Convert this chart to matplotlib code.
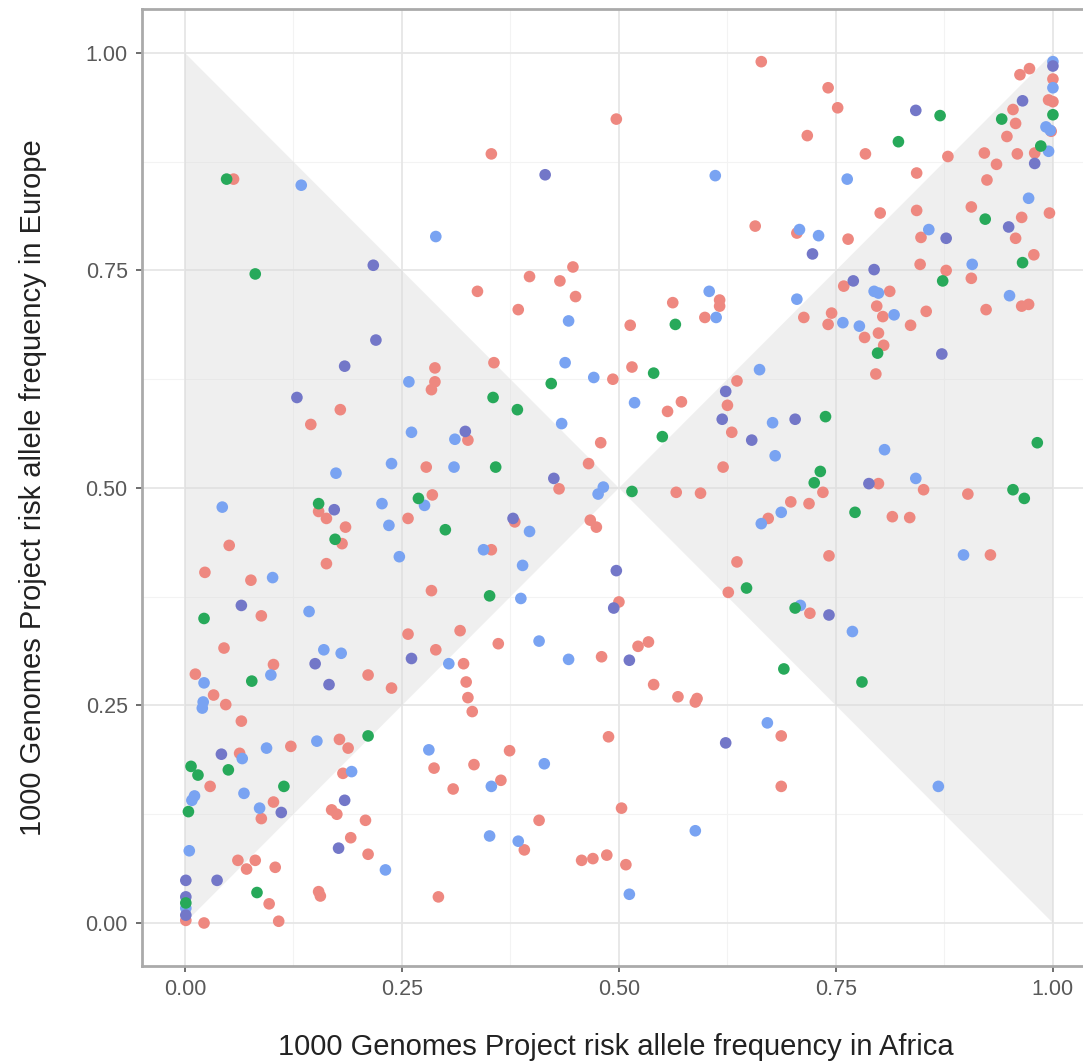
import numpy as np
import matplotlib
matplotlib.use("Agg")
import matplotlib.pyplot as plt
from matplotlib.patches import Polygon

plt.rcParams['font.family'] = ['Liberation Sans', 'DejaVu Sans']

# allele frequencies (Africa, Europe) per point group
red_x = [0.056, 0.664, 0.497, 0.353, 0.657, 0.447, 0.397, 0.432, 0.337, 0.450, 0.384, 0.513,
         0.562, 0.616, 0.616, 0.599, 0.741, 0.752, 0.717, 0.784, 0.879, 0.843, 0.801, 0.843,
         0.906, 0.964, 0.996, 0.957, 0.978, 0.906, 0.964, 0.972, 0.923, 0.854, 0.705, 0.764,
         0.848, 0.847, 0.877, 0.759, 0.812, 0.797, 0.804, 0.745, 0.741, 0.836, 0.713, 0.973,
         0.962, 1.000, 0.995, 1.000, 0.954, 0.957, 0.998, 0.947, 0.979, 0.959, 0.921, 0.935,
         0.924,
         0.288, 0.288, 0.284, 0.179, 0.145, 0.326, 0.278, 0.285, 0.154, 0.163, 0.185, 0.181,
         0.257, 0.051, 0.163, 0.023, 0.076, 0.284, 0.088, 0.257, 0.317,
         0.356, 0.515, 0.493, 0.636, 0.625, 0.630, 0.620, 0.572, 0.556, 0.479, 0.465, 0.431,
         0.566, 0.594, 0.380, 0.467, 0.474, 0.353, 0.500, 0.361, 0.534, 0.522, 0.636, 0.626,
         0.672,
         0.799, 0.783, 0.805, 0.796, 0.735, 0.698, 0.719, 0.799, 0.851, 0.815, 0.835, 0.902,
         0.742, 0.928, 0.720,
         0.045, 0.289, 0.321, 0.324, 0.326, 0.331, 0.102, 0.012, 0.211, 0.238, 0.033, 0.047,
         0.065, 0.178, 0.188, 0.122, 0.063, 0.029, 0.182, 0.102, 0.088, 0.169, 0.175, 0.208,
         0.191, 0.211, 0.287, 0.309, 0.061, 0.081, 0.071, 0.104, 0.154, 0.156, 0.097, 0.108,
         0.001, 0.022, 0.292,
         0.480, 0.540, 0.568, 0.588, 0.590, 0.488, 0.374, 0.333, 0.364, 0.503, 0.408, 0.391,
         0.457, 0.470, 0.486, 0.508, 0.687, 0.687]
red_y = [0.855, 0.990, 0.924, 0.884, 0.801, 0.754, 0.743, 0.738, 0.726, 0.720, 0.705, 0.687,
         0.713, 0.716, 0.709, 0.696, 0.960, 0.937, 0.905, 0.884, 0.881, 0.862, 0.816, 0.819,
         0.823, 0.811, 0.816, 0.787, 0.768, 0.741, 0.709, 0.711, 0.705, 0.703, 0.793, 0.786,
         0.788, 0.757, 0.750, 0.732, 0.726, 0.709, 0.697, 0.701, 0.688, 0.687, 0.696, 0.982,
         0.975, 0.970, 0.946, 0.944, 0.935, 0.919, 0.910, 0.904, 0.885, 0.884, 0.885, 0.872,
         0.854,
         0.638, 0.622, 0.613, 0.590, 0.573, 0.555, 0.524, 0.492, 0.473, 0.465, 0.455, 0.436,
         0.465, 0.434, 0.413, 0.403, 0.394, 0.382, 0.353, 0.332, 0.336,
         0.644, 0.639, 0.625, 0.623, 0.595, 0.564, 0.524, 0.599, 0.588, 0.552, 0.528, 0.499,
         0.495, 0.494, 0.461, 0.463, 0.455, 0.429, 0.369, 0.321, 0.323, 0.318, 0.415, 0.380,
         0.465,
         0.678, 0.673, 0.664, 0.631, 0.495, 0.484, 0.482, 0.505, 0.498, 0.467, 0.466, 0.493,
         0.422, 0.423, 0.356,
         0.316, 0.314, 0.298, 0.277, 0.259, 0.243, 0.297, 0.286, 0.285, 0.270, 0.262, 0.251,
         0.232, 0.211, 0.201, 0.203, 0.195, 0.157, 0.172, 0.139, 0.120, 0.130, 0.125, 0.118,
         0.098, 0.079, 0.178, 0.154, 0.072, 0.072, 0.062, 0.064, 0.036, 0.031, 0.022, 0.002,
         0.003, 0.000, 0.030,
         0.306, 0.274, 0.260, 0.254, 0.258, 0.214, 0.198, 0.182, 0.164, 0.132, 0.118, 0.084,
         0.072, 0.074, 0.078, 0.067, 0.215, 0.157]

blue_x = [0.134, 0.289, 0.611, 0.442, 0.604, 0.612, 0.763, 0.972, 0.907, 0.950, 0.708, 0.730,
          0.857, 0.794, 0.799, 0.817, 0.758, 0.777, 0.705, 1.000, 1.000, 0.992, 0.997, 0.995,
          0.258, 0.261, 0.311, 0.238, 0.310, 0.174, 0.276, 0.227, 0.043, 0.235, 0.247, 0.101,
          0.143,
          0.438, 0.471, 0.662, 0.677, 0.680, 0.518, 0.434, 0.482, 0.476, 0.397, 0.344, 0.389,
          0.387, 0.408, 0.664,
          0.806, 0.687, 0.842, 0.897, 0.709, 0.769,
          0.160, 0.180, 0.304, 0.099, 0.022, 0.021, 0.020, 0.152, 0.094, 0.066, 0.192, 0.011,
          0.008, 0.068, 0.086, 0.231, 0.281, 0.005, 0.001,
          0.442, 0.414, 0.353, 0.351, 0.384, 0.512, 0.588, 0.671, 0.868]
blue_y = [0.848, 0.789, 0.859, 0.692, 0.726, 0.696, 0.855, 0.833, 0.757, 0.721, 0.797, 0.790,
          0.797, 0.726, 0.724, 0.699, 0.690, 0.686, 0.717, 0.990, 0.960, 0.915, 0.911, 0.887,
          0.622, 0.564, 0.556, 0.528, 0.524, 0.517, 0.480, 0.482, 0.478, 0.457, 0.421, 0.397,
          0.358,
          0.644, 0.627, 0.636, 0.575, 0.537, 0.598, 0.574, 0.501, 0.493, 0.450, 0.429, 0.411,
          0.373, 0.324, 0.459,
          0.544, 0.472, 0.511, 0.423, 0.365, 0.335,
          0.314, 0.310, 0.298, 0.285, 0.276, 0.254, 0.247, 0.209, 0.201, 0.189, 0.174, 0.146,
          0.141, 0.149, 0.132, 0.061, 0.199, 0.083, 0.017,
          0.303, 0.183, 0.157, 0.100, 0.094, 0.033, 0.106, 0.230, 0.157]

purple_x = [0.217, 0.415, 0.842, 0.949, 0.723, 0.877, 0.794, 0.770, 1.000, 0.965, 0.979,
            0.220, 0.184, 0.129, 0.323, 0.172, 0.065,
            0.623, 0.619, 0.653, 0.425, 0.378, 0.497, 0.494,
            0.872, 0.703, 0.788, 0.742,
            0.150, 0.166, 0.261, 0.042, 0.111, 0.184, 0.177, 0.001, 0.037, 0.001, 0.001,
            0.512, 0.623]
purple_y = [0.756, 0.860, 0.934, 0.800, 0.769, 0.787, 0.751, 0.738, 0.985, 0.945, 0.873,
            0.670, 0.640, 0.604, 0.565, 0.475, 0.365,
            0.611, 0.579, 0.555, 0.511, 0.465, 0.405, 0.362,
            0.654, 0.579, 0.505, 0.354,
            0.298, 0.274, 0.304, 0.194, 0.127, 0.141, 0.086, 0.049, 0.049, 0.030, 0.009,
            0.302, 0.207]

green_x = [0.048, 0.081, 0.565, 0.870, 0.822, 0.922, 0.965, 0.873, 1.000, 0.941, 0.986,
           0.269, 0.154, 0.173, 0.300, 0.022,
           0.540, 0.422, 0.355, 0.383, 0.550, 0.358, 0.515, 0.351, 0.647,
           0.798, 0.738, 0.732, 0.725, 0.772, 0.982, 0.954, 0.967, 0.703,
           0.077, 0.211, 0.007, 0.015, 0.050, 0.114, 0.004, 0.083, 0.001,
           0.690, 0.780]
green_y = [0.855, 0.746, 0.688, 0.928, 0.898, 0.809, 0.759, 0.738, 0.929, 0.924, 0.893,
           0.488, 0.482, 0.441, 0.452, 0.350,
           0.632, 0.620, 0.604, 0.590, 0.559, 0.524, 0.496, 0.376, 0.385,
           0.655, 0.582, 0.519, 0.506, 0.472, 0.552, 0.498, 0.488, 0.362,
           0.278, 0.215, 0.180, 0.170, 0.176, 0.157, 0.128, 0.035, 0.023,
           0.292, 0.277]

ticks = [0.0, 0.25, 0.5, 0.75, 1.0]
tick_labels = ["0.00", "0.25", "0.50", "0.75", "1.00"]

fig = plt.figure(figsize=(10.83, 10.63), dpi=100)
ax = fig.add_axes([0.1307, 0.0908, 0.8816, 0.9003])
ax.set_xlim(-0.05, 1.05)
ax.set_ylim(-0.05, 1.05)

# grid
for v in [0.125, 0.375, 0.625, 0.875]:
    ax.axhline(v, color='#f3f3f3', lw=0.8, zorder=0)
    ax.axvline(v, color='#f3f3f3', lw=0.8, zorder=0)
for v in ticks:
    ax.axhline(v, color='#e6e6e6', lw=1.3, zorder=0)
    ax.axvline(v, color='#e6e6e6', lw=1.3, zorder=0)

# shaded regions where |AFR - 0.5| > |EUR - 0.5|
ax.add_patch(Polygon([(0, 0), (0, 1), (0.5, 0.5)], closed=True,
                     facecolor='#d9d9d9', alpha=0.4, edgecolor='none', zorder=1))
ax.add_patch(Polygon([(1, 0), (1, 1), (0.5, 0.5)], closed=True,
                     facecolor='#d9d9d9', alpha=0.4, edgecolor='none', zorder=1))

s = 70
ax.scatter(red_x, red_y, s=s, color='#ee8880', edgecolors='none', zorder=3)
ax.scatter(blue_x, blue_y, s=s, color='#79a3f2', edgecolors='none', zorder=3)
ax.scatter(purple_x, purple_y, s=s, color='#7377c8', edgecolors='none', zorder=3)
ax.scatter(green_x, green_y, s=s, color='#27a95a', edgecolors='none', zorder=3)

ax.set_xticks(ticks)
ax.set_xticklabels(tick_labels)
ax.set_yticks(ticks)
ax.set_yticklabels(tick_labels)
ax.tick_params(length=4, width=1.2, color='#555555', labelcolor='#595959', labelsize=15.5)
ax.tick_params(axis='x', pad=5)
ax.tick_params(axis='y', pad=6)

for sp in ax.spines.values():
    sp.set_color('#aaaaaa')
    sp.set_linewidth(2)

fig.text(616 / 1083, 1 - 1047 / 1063, "1000 Genomes Project risk allele frequency in Africa",
         fontsize=21, color='#222222', ha='center', va='center')
fig.text(33 / 1083, 1 - 488 / 1063, "1000 Genomes Project risk allele frequency in Europe",
         fontsize=21, color='#222222', ha='center', va='center', rotation=90)

fig.savefig("out.png", dpi=100)
